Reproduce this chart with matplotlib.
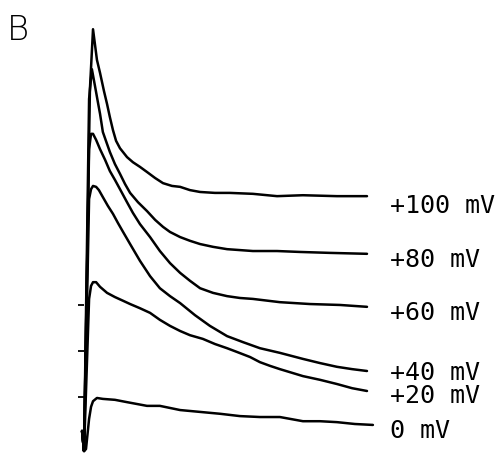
import matplotlib
matplotlib.use("Agg")
import matplotlib.pyplot as plt

# ---- data (time in ms, current in arbitrary units) ----
t_100 = [-1.4, -0.7, 1.4, 2.5, 3.9, 5.0, 6.4, 7.5, 8.5, 9.6, 10.7, 12.1, 14.6, 16.7, 19.2, 21.7,
         24.6, 27.4, 30.6, 33.5, 37.0, 40.6, 45.9, 51.2, 59.4, 68.0, 77.2, 89.3, 100]
i_100 = [0.28, -0.15, 7.63, 8.92, 8.26, 7.98, 7.59, 7.31, 7.03, 6.75, 6.52, 6.36, 6.17, 6.06, 5.96, 5.85,
         5.72, 5.61, 5.55, 5.53, 5.46, 5.42, 5.40, 5.40, 5.38, 5.33, 5.35, 5.33, 5.33]

t_80 = [-1.4, -0.7, 1.1, 2.1, 3.2, 4.3, 5.0, 6.0, 7.1, 8.5, 10.3, 12.1, 13.9, 15.7, 18.5, 21.7, 24.6,
        27.4, 29.9, 33.5, 37.0, 40.6, 45.2, 50.2, 54.8, 59.4, 68.0, 76.2, 86.8, 100]
i_80 = [0.28, -0.15, 7.42, 8.06, 7.70, 7.33, 7.10, 6.71, 6.52, 6.28, 6.02, 5.81, 5.59, 5.40, 5.20, 5.01,
        4.82, 4.67, 4.56, 4.45, 4.37, 4.30, 4.24, 4.19, 4.17, 4.15, 4.15, 4.13, 4.11, 4.09]

t_60 = [-1.4, -0.7, 1.1, 1.8, 2.5, 3.6, 5.0, 6.8, 8.5, 10.3, 12.1, 14.6, 16.7, 19.2, 22.8, 26.3, 29.9,
        33.5, 37.0, 40.6, 45.2, 50.2, 54.8, 59.4, 69.0, 79.7, 90.4, 100]
i_60 = [0.28, -0.15, 6.34, 6.67, 6.67, 6.54, 6.34, 6.11, 5.87, 5.68, 5.48, 5.20, 4.97, 4.73, 4.45, 4.15,
        3.89, 3.68, 3.51, 3.35, 3.25, 3.18, 3.14, 3.12, 3.05, 3.01, 2.99, 2.95]

t_40 = [-1.4, -0.7, 1.1, 1.8, 2.5, 3.6, 4.6, 6.0, 7.8, 9.6, 11.4, 13.2, 15.7, 19.2, 22.8, 26.3, 29.9,
        33.5, 38.8, 44.1, 50.2, 55.9, 61.9, 69.0, 77.2, 83.3, 89.3, 94.7, 100]
i_40 = [0.28, -0.15, 5.27, 5.48, 5.55, 5.53, 5.46, 5.31, 5.12, 4.95, 4.75, 4.56, 4.30, 3.94, 3.61, 3.35,
        3.18, 3.03, 2.77, 2.54, 2.32, 2.19, 2.06, 1.96, 1.83, 1.74, 1.66, 1.61, 1.57]

t_20 = [-1.4, -0.7, 1.1, 1.8, 2.5, 3.6, 5.0, 7.5, 10.3, 13.2, 15.7, 19.2, 22.8, 26.3, 29.9, 33.5, 37.0,
        41.6, 45.9, 50.2, 53.7, 58.4, 61.9, 65.5, 69.0, 77.2, 83.3, 89.3, 94.7, 100]
i_20 = [0.28, -0.15, 3.12, 3.40, 3.48, 3.48, 3.38, 3.25, 3.16, 3.08, 3.01, 2.92, 2.82, 2.67, 2.54, 2.43,
        2.34, 2.26, 2.15, 2.06, 1.98, 1.87, 1.76, 1.68, 1.61, 1.46, 1.38, 1.29, 1.20, 1.14]

t_0 = [-1.4, -0.7, 0.0, 1.1, 1.8, 2.5, 3.9, 6.0, 10.3, 14.6, 21.7, 26.3, 33.5, 40.6, 47.7, 54.8, 61.9,
       69.0, 77.2, 83.3, 89.3, 95.7, 102.1]
i_0 = [0.28, -0.15, -0.11, 0.54, 0.80, 0.92, 0.99, 0.97, 0.95, 0.90, 0.82, 0.82, 0.73, 0.69, 0.65, 0.60,
       0.58, 0.58, 0.49, 0.49, 0.47, 0.43, 0.41]

labels = ["+100 mV", "+80 mV", "+60 mV", "+40 mV", "+20 mV", "0 mV"]
scale_ticks = [1, 2, 3]

# ---- layout ----
label_x = 108.2
label_y = [4.99, 3.83, 2.69, 1.40, 0.90, 0.15]

fig = plt.figure(figsize=(5.0, 4.56), dpi=100)
ax = fig.add_axes([0, 0, 1, 1])
ax.set_xlim(-30.6, 147.33)
ax.set_ylim(-0.2366, 9.570)

traces = [(t_100, i_100), (t_80, i_80), (t_60, i_60), (t_40, i_40), (t_20, i_20), (t_0, i_0)]
for t, i in traces:
    ax.plot(t, i, color="black", lw=1.8, solid_joinstyle="round", solid_capstyle="round")

for lab, y in zip(labels, label_y):
    ax.text(label_x, y, lab, fontsize=18, family="DejaVu Sans Mono",
            ha="left", va="baseline", color="black")

# scale ticks on the left
for s in ["top", "right", "bottom"]:
    ax.spines[s].set_visible(False)
ax.spines["left"].set_position(("data", -0.71))
ax.spines["left"].set_visible(False)
ax.set_yticks(scale_ticks)
ax.set_yticklabels([])
ax.set_xticks([])
ax.tick_params(axis="y", direction="out", length=4.6, width=1.3, color="black")

fig.text(7 / 500, 1 - 40 / 456, "B", fontsize=24.5, family="DejaVu Sans",
         fontweight="light", ha="left", va="baseline")

fig.savefig("out.png", dpi=100, facecolor="white")
